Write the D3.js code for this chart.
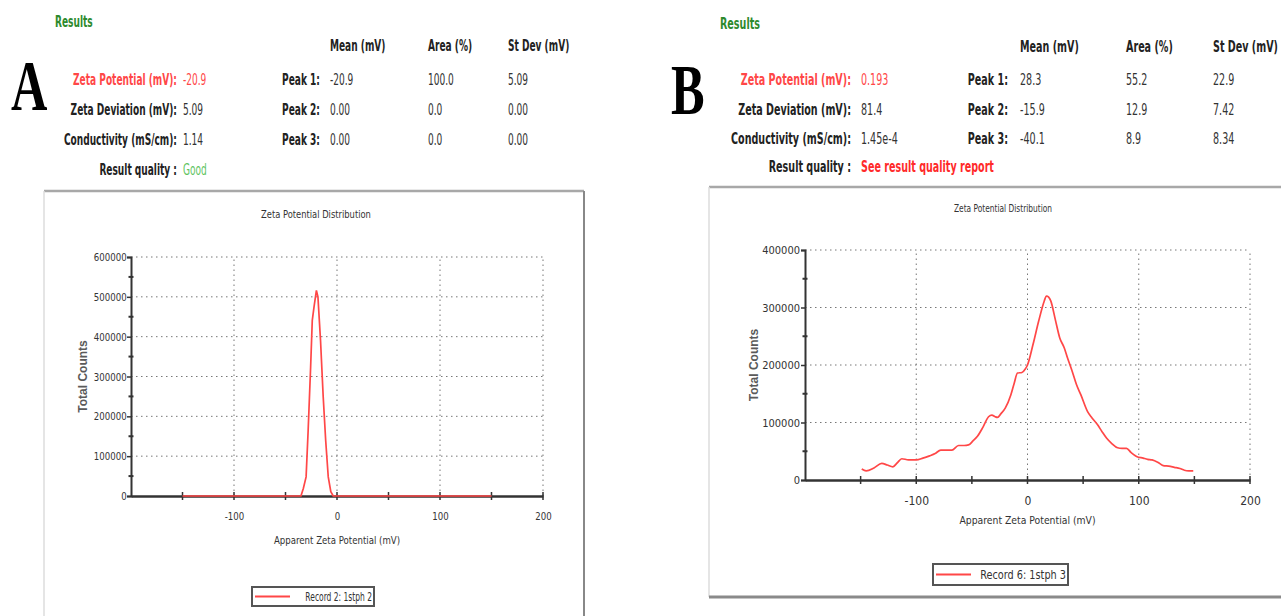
<!DOCTYPE html>
<html>
<head>
<meta charset="utf-8">
<title>Zeta Potential Distribution</title>
<script src="https://cdn.jsdelivr.net/npm/d3@7"></script>
<style>
body { margin: 0; background: #fff; }
.hdr { font-family: "DejaVu Sans Condensed", "Liberation Sans Narrow", sans-serif; font-size: 15px; }
.bold { font-weight: bold; }
.chart text { font-family: "DejaVu Sans Condensed", "Liberation Sans Narrow", sans-serif; fill: #333; }
.grid { stroke: #777; stroke-width: 1; stroke-dasharray: 1.5,3.5; }
</style>
</head>
<body>
<svg id="fig" width="1281" height="616"></svg>
<script>
// ---- data ----
var rowLabels = ["Zeta Potential (mV):", "Zeta Deviation (mV):", "Conductivity (mS/cm):"];
var colHeads = ["Mean (mV)", "Area (%)", "St Dev (mV)"];
var peakLabels = ["Peak 1:", "Peak 2:", "Peak 3:"];

var valuesA = ["-20.9", "5.09", "1.14"];
var peaksA = [["-20.9", "100.0", "5.09"], ["0.00", "0.0", "0.00"], ["0.00", "0.0", "0.00"]];
var qualityA = "Good";

var valuesB = ["0.193", "81.4", "1.45e-4"];
var peaksB = [["28.3", "55.2", "22.9"], ["-15.9", "12.9", "7.42"], ["-40.1", "8.9", "8.34"]];
var qualityB = "See result quality report";

var xTickLabels = [-100, 0, 100, 200];
var xTicksAll = [-200, -150, -100, -50, 0, 50, 100, 150, 200];

var yTicksA = [0, 100000, 200000, 300000, 400000, 500000, 600000];
var yTicksB = [0, 100000, 200000, 300000, 400000];

// Record 2: 1stph 2
var mvA = [-150, -35, -32.7, -30, -28, -25.6, -24, -22.3, -20, -18.5, -16, -13.4, -11, -8.5, -6, -3.7, 150];
var countsA = [0, 0, 19000, 48000, 165000, 324000, 441000, 475000, 516000, 500000, 391000, 249000, 140000, 48000, 11000, 0, 0];

// Record 6: 1stph 3
var mvB = [-149, -145, -138, -131, -126, -121, -117, -113, -107, -100, -94, -88, -83, -78, -73, -68, -62, -57, -53, -49, -45, -40, -35, -32, -29, -27, -24, -20, -15, -12, -9, -5, -2, 0, 5, 10, 15, 17, 19, 21, 25, 29, 33, 36, 40, 44, 48, 54, 58, 63, 67, 71, 76, 81, 85, 89, 93, 98, 104, 108, 112, 117, 122, 127, 132, 137, 141, 145, 149];
var countsB = [19000, 16000, 21000, 29000, 26000, 23000, 30000, 37000, 35000, 35000, 38000, 42000, 46000, 52000, 52000, 52000, 60000, 60000, 61000, 68000, 76000, 92000, 110000, 113000, 110000, 109000, 115000, 125000, 148000, 168000, 186000, 187000, 193000, 200000, 236000, 276000, 311000, 320000, 318000, 311000, 279000, 247000, 230000, 212000, 190000, 166000, 148000, 119000, 108000, 96000, 84000, 73000, 63000, 56000, 55000, 55000, 48000, 41000, 38000, 36000, 35000, 31000, 25000, 24000, 22000, 20000, 17000, 16000, 16000];

var red = "#ff4747";
var svg = d3.select("#fig");

// squeeze text horizontally around its own anchor point (the original uses a narrow font)
function squeeze(sel, sx) {
  sel.attr("transform", function() {
    var x = +this.getAttribute("x") || 0, y = +this.getAttribute("y") || 0;
    return "translate(" + x + "," + y + ") scale(" + sx + ",1) translate(" + (-x) + "," + (-y) + ")";
  });
  return sel;
}

function header(cfg) {
  var g = svg.append("g").attr("class", "hdr");
  var sx = cfg.sx;
  squeeze(g.append("text").attr("x", cfg.resX).attr("y", cfg.resY)
    .attr("class", "bold").style("fill", "#2d8a2d").text("Results"), sx);
  squeeze(g.append("text").attr("x", cfg.letterX).attr("y", cfg.letterY)
    .style("font-family", "'Liberation Serif', 'DejaVu Serif', serif")
    .style("font-weight", "bold").style("font-size", "72px").style("fill", "#000")
    .text(cfg.letter), 0.7);

  colHeads.forEach(function(h, i) {
    squeeze(g.append("text").attr("x", cfg.colX[i]).attr("y", cfg.headY)
      .attr("class", "bold").style("fill", "#222").text(h), sx);
  });
  rowLabels.forEach(function(l, i) {
    var c = i === 0 ? red : "#222";
    squeeze(g.append("text").attr("x", cfg.labelR).attr("y", cfg.rowY[i])
      .attr("class", "bold").attr("text-anchor", "end").style("fill", c).text(l), sx);
    squeeze(g.append("text").attr("x", cfg.valX).attr("y", cfg.rowY[i])
      .style("fill", i === 0 ? red : "#333").text(cfg.values[i]), sx);
    squeeze(g.append("text").attr("x", cfg.peakR).attr("y", cfg.rowY[i])
      .attr("class", "bold").attr("text-anchor", "end").style("fill", "#222").text(peakLabels[i]), sx);
    cfg.peaks[i].forEach(function(v, j) {
      squeeze(g.append("text").attr("x", cfg.colX[j]).attr("y", cfg.rowY[i])
        .style("fill", "#333").text(v), sx);
    });
  });
  squeeze(g.append("text").attr("x", cfg.labelR).attr("y", cfg.rowY[3])
    .attr("class", "bold").attr("text-anchor", "end").style("fill", "#222").text("Result quality :"), sx);
  squeeze(g.append("text").attr("x", cfg.valX).attr("y", cfg.rowY[3])
    .attr("class", cfg.qualityBold ? "bold" : null)
    .style("fill", cfg.qualityColor).text(cfg.quality), sx);
}

function chart(cfg) {
  var g = svg.append("g").attr("class", "chart");

  // frame
  g.append("line").attr("x1", cfg.box[0]).attr("x2", cfg.box[2]).attr("y1", cfg.box[1]).attr("y2", cfg.box[1])
    .style("stroke", "#a8a8a8").style("stroke-width", 2.5);
  g.append("line").attr("x1", cfg.box[0]).attr("x2", cfg.box[0]).attr("y1", cfg.box[1]).attr("y2", cfg.box[3])
    .style("stroke", "#dcdcdc").style("stroke-width", 1.5);
  if (cfg.rightEdge) {
    g.append("line").attr("x1", cfg.box[2]).attr("x2", cfg.box[2]).attr("y1", cfg.box[1]).attr("y2", cfg.box[3])
      .style("stroke", "#888").style("stroke-width", 2);
  }
  if (cfg.bottomEdge) {
    g.append("line").attr("x1", cfg.box[0]).attr("x2", cfg.box[2]).attr("y1", cfg.box[3]).attr("y2", cfg.box[3])
      .style("stroke", "#8a8a8a").style("stroke-width", 3);
  }

  var x = d3.scaleLinear().domain([-200, 200]).range([cfg.x0, cfg.x1]);
  var y = d3.scaleLinear().domain([0, cfg.yMax]).range([cfg.y0, cfg.yTop]);

  squeeze(g.append("text").attr("x", cfg.titleX).attr("y", cfg.titleY).attr("text-anchor", "middle")
    .style("font-size", "10px").text("Zeta Potential Distribution"), cfg.titleSx);

  // grid
  g.selectAll(".hg").data(cfg.yTicks.slice(1)).enter().append("line").attr("class", "grid")
    .attr("x1", cfg.x0).attr("x2", cfg.x1).attr("y1", function(d) { return y(d); }).attr("y2", function(d) { return y(d); });
  g.selectAll(".vg").data(xTickLabels).enter().append("line").attr("class", "grid")
    .attr("x1", function(d) { return x(d); }).attr("x2", function(d) { return x(d); })
    .attr("y1", cfg.y0).attr("y2", cfg.yTop);

  // y axis
  var yAxis = d3.axisLeft(y).tickValues(cfg.yTicks).tickSize(4).tickFormat(d3.format("d"));
  var ya = g.append("g").attr("transform", "translate(" + cfg.x0 + ",0)").call(yAxis);
  ya.select(".domain").style("stroke", "#333").style("stroke-width", 2);
  ya.selectAll(".tick line").style("stroke", "#333").style("stroke-width", 1.5);
  ya.selectAll(".tick text").style("font-size", "11px").style("fill", "#333").attr("x", -5)
    .attr("transform", "scale(" + cfg.tickSx + ",1)");
  var minorY = d3.range(50000, cfg.yMax, 100000);
  g.selectAll(".my").data(minorY).enter().append("line")
    .attr("x1", cfg.x0 - 2.5).attr("x2", cfg.x0 + 2.5)
    .attr("y1", function(d) { return y(d); }).attr("y2", function(d) { return y(d); })
    .style("stroke", "#333").style("stroke-width", 2);

  // x axis
  var xAxis = d3.axisBottom(x).tickValues(xTicksAll).tickSize(0)
    .tickFormat(function(d) { return xTickLabels.indexOf(d) >= 0 ? d : ""; });
  var xa = g.append("g").attr("transform", "translate(0," + cfg.y0 + ")").call(xAxis);
  xa.select(".domain").style("stroke", "#333").style("stroke-width", 2.5);
  xa.selectAll(".tick text").style("font-size", cfg.xTickFs + "px").style("fill", "#333").attr("y", cfg.xLabOff)
    .attr("transform", "scale(" + cfg.tickSx + ",1)");
  g.selectAll(".xt").data(xTicksAll.slice(1)).enter().append("line")
    .attr("x1", function(d) { return x(d); }).attr("x2", function(d) { return x(d); })
    .attr("y1", cfg.y0 - 4).attr("y2", cfg.y0 + 4)
    .style("stroke", "#333").style("stroke-width", 1.5);

  // series
  var pts = cfg.mv.map(function(v, i) { return [v, cfg.counts[i]]; });
  var line = d3.line().x(function(d) { return x(d[0]); }).y(function(d) { return y(d[1]); })
    .curve(cfg.smooth ? d3.curveMonotoneX : d3.curveLinear);
  g.append("path").datum(pts).attr("d", line)
    .style("fill", "none").style("stroke", red).style("stroke-width", 1.7);

  // axis titles
  squeeze(g.append("text").attr("x", x(0)).attr("y", cfg.xTitleY).attr("text-anchor", "middle")
    .style("font-size", "11px").text("Apparent Zeta Potential (mV)"), cfg.xTitleSx);
  g.append("text").attr("transform", "translate(" + cfg.yTitleX + "," + (cfg.y0 + cfg.yTop) / 2 + ") rotate(-90)")
    .attr("text-anchor", "middle")
    .style("font-family", "'Liberation Sans', Arial, sans-serif").style("font-weight", "bold")
    .style("font-size", "12px").style("fill", "#5a5a5a").text("Total Counts");

  // legend
  var L = cfg.legend;
  g.append("rect").attr("x", L[0]).attr("y", L[1]).attr("width", L[2]).attr("height", L[3])
    .style("fill", "#fff").style("stroke", "#555").style("stroke-width", 2);
  g.append("line").attr("x1", L[0] + 3).attr("x2", L[0] + 38).attr("y1", L[1] + L[3] / 2).attr("y2", L[1] + L[3] / 2)
    .style("stroke", red).style("stroke-width", 2);
  squeeze(g.append("text").attr("x", L[0] + L[2] - 2).attr("y", L[1] + L[3] / 2 + 5).attr("text-anchor", "end")
    .style("font-size", "12px").text(cfg.record), cfg.legendSx);
}

header({ letter: "A", letterX: 11, letterY: 110, resX: 55, resY: 27, sx: 0.67,
  colX: [330, 428, 508], headY: 51, rowY: [85, 115, 145, 175],
  labelR: 177, valX: 183, peakR: 320,
  values: valuesA, peaks: peaksA, quality: qualityA, qualityColor: "#5fc45f", qualityBold: false });

header({ letter: "B", letterX: 671, letterY: 114, resX: 720, resY: 29, sx: 0.71,
  colX: [1020, 1126, 1213], headY: 52, rowY: [85, 115, 144, 172],
  labelR: 851, valX: 861, peakR: 1008,
  values: valuesB, peaks: peaksB, quality: qualityB, qualityColor: "#ff2a2a", qualityBold: true });

chart({ box: [44, 191, 584, 620], rightEdge: true, bottomEdge: false,
  x0: 131, x1: 543, y0: 496, yTop: 257, yMax: 600000, yTicks: yTicksA,
  titleX: 316, titleY: 218, xLabOff: 16, xTitleY: 544, yTitleX: 87, xTickFs: 11,
  tickSx: 0.87, titleSx: 0.93, xTitleSx: 0.87, legendSx: 0.7,
  mv: mvA, counts: countsA, smooth: false,
  legend: [252, 587, 122, 19], record: "Record 2: 1stph 2" });

chart({ box: [709, 187, 1290, 597], rightEdge: false, bottomEdge: true,
  x0: 805, x1: 1250, y0: 480, yTop: 250, yMax: 400000, yTicks: yTicksB,
  titleX: 1003, titleY: 212, xLabOff: 16, xTitleY: 524, yTitleX: 758, xTickFs: 12,
  tickSx: 1.0, titleSx: 0.83, xTitleSx: 0.94, legendSx: 0.9,
  mv: mvB, counts: countsB, smooth: true,
  legend: [933, 564, 135, 21], record: "Record 6: 1stph 3" });
</script>
</body>
</html>
